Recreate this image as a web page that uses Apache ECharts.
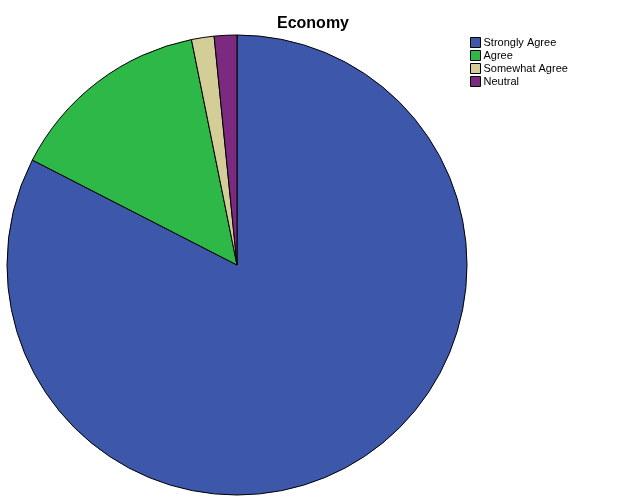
<!DOCTYPE html>
<html><head><meta charset="utf-8">
<script src="https://cdn.jsdelivr.net/npm/echarts@6/dist/echarts.min.js"></script>
<style>html,body{margin:0;padding:0;background:#fff}#c{width:626px;height:501px}</style>
</head><body><div id="c"></div>
<script>
const categories = ["Strongly Agree", "Agree", "Somewhat Agree", "Neutral"];
const values = [52, 9, 1, 1];
const colors = ["#3d58ab", "#2eb848", "#d3ce97", "#7b2a7f"];
const chart = echarts.init(document.getElementById('c'), null, {renderer:'canvas'});
chart.setOption({
  animation:false,
  backgroundColor:'#ffffff',
  title:{text:'Economy', left:'center', top:11,
    textStyle:{fontFamily:'Liberation Sans, Arial', fontSize:16, fontWeight:'bold', color:'#000'}},
  legend:{orient:'vertical', left:470, top:37, padding:0, itemWidth:10, itemHeight:10, itemGap:2,
    icon:'rect',
    textStyle:{fontFamily:'Liberation Sans, Arial', fontSize:11, color:'#000', padding:[0,0,0,-2]},
    itemStyle:{borderColor:'#000', borderWidth:1},
    data:categories},
  series:[{type:'pie', center:[237,265], radius:230, startAngle:90, clockwise:true,
    label:{show:false}, labelLine:{show:false}, emphasis:{disabled:true},
    itemStyle:{borderColor:'#000', borderWidth:1},
    data:categories.map((n,i)=>({name:n, value:values[i], itemStyle:{color:colors[i]}}))}]
});
</script></body></html>
